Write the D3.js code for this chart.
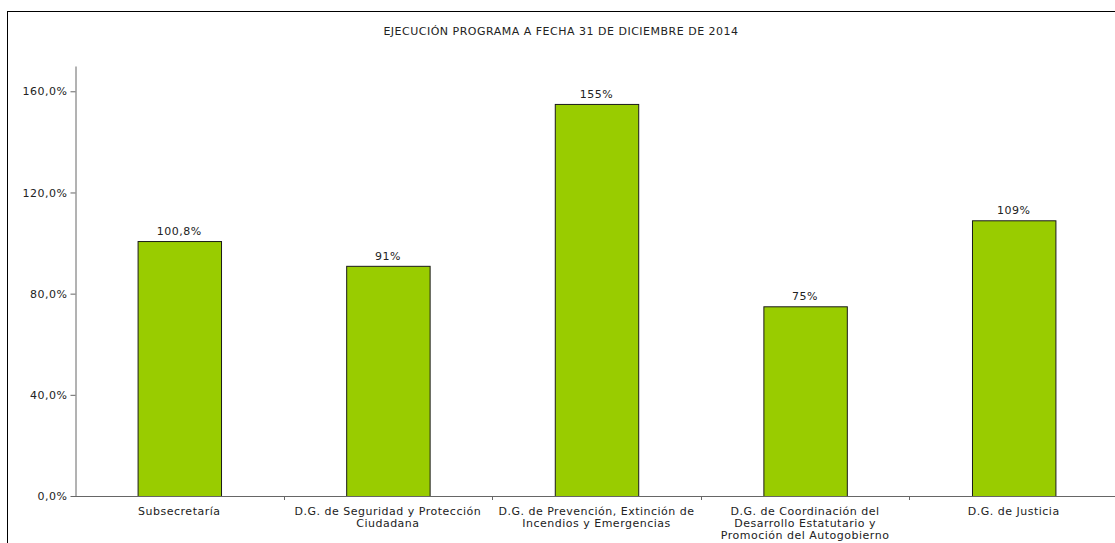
<!DOCTYPE html>
<html>
<head>
<meta charset="utf-8">
<script src="https://cdn.jsdelivr.net/npm/d3@7"></script>
<style>
  body { margin: 0; background: #fff; }
  text { font-family: "DejaVu Sans", Verdana, sans-serif; fill: #222; letter-spacing: 0.5px; }
</style>
</head>
<body>
<svg id="chart" width="1115" height="543"></svg>
<script>
// chart data
const categories = [
  "Subsecretaría",
  "D.G. de Seguridad y Protección Ciudadana",
  "D.G. de Prevención, Extinción de Incendios y Emergencias",
  "D.G. de Coordinación del Desarrollo Estatutario y Promoción del Autogobierno",
  "D.G. de Justicia"
];
const labelLines = [
  ["Subsecretaría"],
  ["D.G. de Seguridad y Protección", "Ciudadana"],
  ["D.G. de Prevención, Extinción de", "Incendios y Emergencias"],
  ["D.G. de Coordinación del", "Desarrollo Estatutario y", "Promoción del Autogobierno"],
  ["D.G. de Justicia"]
];
const values = [100.8, 91, 155, 75, 109];
const valueLabels = ["100,8%", "91%", "155%", "75%", "109%"];
const yTicks = [0, 40, 80, 120, 160];
const title = "EJECUCIÓN PROGRAMA A FECHA 31 DE DICIEMBRE DE 2014";

const fontSize = "11px";
const svg = d3.select("#chart");

// outer frame (runs off the right / bottom of the picture)
svg.append("rect")
  .attr("x", 7.5).attr("y", 11.5)
  .attr("width", 1120).attr("height", 560)
  .attr("fill", "none")
  .attr("stroke", "#000")
  .attr("stroke-width", 1);

svg.append("text")
  .attr("x", 561).attr("y", 35)
  .attr("text-anchor", "middle")
  .style("font-size", fontSize)
  .text(title);

const plotLeft = 75, plotBottom = 496, plotTop = 66;
const step = 208.6;
const x = d3.scaleBand()
  .domain(categories)
  .range([plotLeft, plotLeft + categories.length * step])
  .paddingInner(0.6)
  .paddingOuter(0.3);

const y = d3.scaleLinear()
  .domain([0, 170])
  .range([plotBottom, plotTop]);

// y axis
const yAxis = svg.append("g")
  .attr("transform", `translate(${plotLeft + 0.5},0)`)
  .call(d3.axisLeft(y)
    .tickValues(yTicks)
    .tickSize(5)
    .tickSizeOuter(0)
    .tickFormat(d => d3.format(".1f")(d).replace(".", ",") + "%"));
yAxis.select(".domain").attr("stroke", "#666");
yAxis.selectAll(".tick line").attr("stroke", "#666");
yAxis.selectAll(".tick text")
  .style("font-size", fontSize)
  .attr("x", -8)
  .attr("fill", "#222");

// bars
svg.selectAll("rect.bar")
  .data(values)
  .enter()
  .append("rect")
  .attr("class", "bar")
  .attr("x", (d, i) => x(categories[i]) + 0.5)
  .attr("y", d => y(d) + 0.5)
  .attr("width", x.bandwidth())
  .attr("height", d => plotBottom - y(d))
  .attr("fill", "#99cc00")
  .attr("stroke", "#1a1a1a")
  .attr("stroke-width", 1);

// value labels
svg.selectAll("text.val")
  .data(values)
  .enter()
  .append("text")
  .attr("class", "val")
  .attr("x", (d, i) => x(categories[i]) + x.bandwidth() / 2)
  .attr("y", d => y(d) - 6)
  .attr("text-anchor", "middle")
  .style("font-size", fontSize)
  .text((d, i) => valueLabels[i]);

// x axis line and ticks at band boundaries
svg.append("line")
  .attr("x1", plotLeft).attr("x2", plotLeft + categories.length * step + 5)
  .attr("y1", plotBottom + 0.5).attr("y2", plotBottom + 0.5)
  .attr("stroke", "#666");
d3.range(1, categories.length).forEach(i => {
  const tx = Math.round(plotLeft + i * step) + 0.5;
  svg.append("line")
    .attr("x1", tx).attr("x2", tx)
    .attr("y1", plotBottom).attr("y2", plotBottom + 4)
    .attr("stroke", "#666");
});

// category labels
categories.forEach((c, i) => {
  const cx = x(c) + x.bandwidth() / 2;
  const t = svg.append("text")
    .attr("text-anchor", "middle")
    .attr("y", 515)
    .style("font-size", fontSize);
  t.selectAll("tspan")
    .data(labelLines[i])
    .enter()
    .append("tspan")
    .attr("x", cx)
    .attr("dy", (d, j) => (j === 0 ? 0 : 12))
    .text(d => d);
});
</script>
</body>
</html>
